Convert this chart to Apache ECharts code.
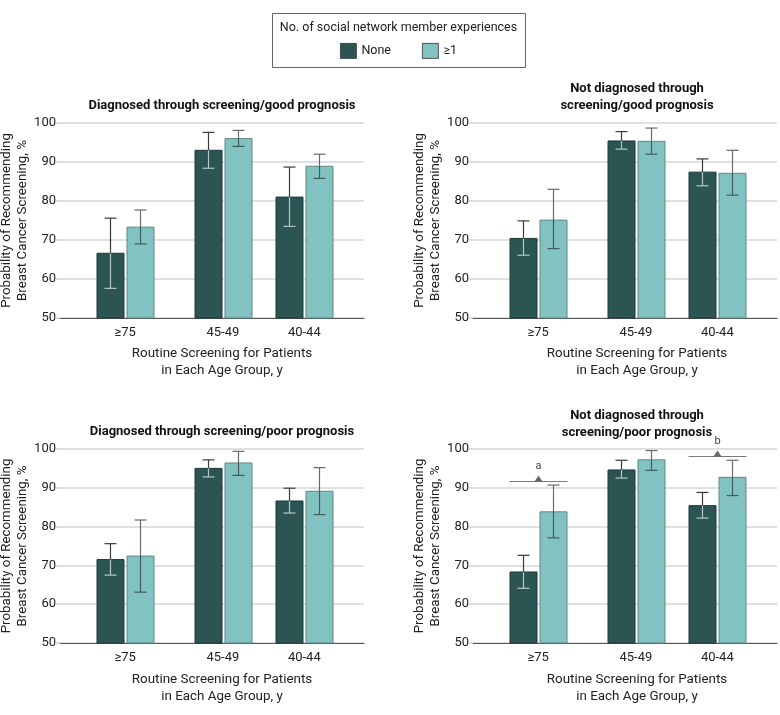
<!DOCTYPE html>
<html><head><meta charset="utf-8">
<script src="https://cdn.jsdelivr.net/npm/echarts@6/dist/echarts.min.js"></script>
<style>html,body{margin:0;padding:0;background:#fff}#c{width:780px;height:715px}</style>
</head><body><div id="c"></div>
<script>
// ---- data ----
const categories = ['≥75', '45-49', '40-44'];
const groupX = [12, 30, 45];           // position of each age group along the x axis (0..56)
const seriesNames = ['None', '≥1'];
const legendTitle = 'No. of social network member experiences';
const yName = 'Probability of Recommending\nBreast Cancer Screening, %';
const xName = 'Routine Screening for Patients\nin Each Age Group, y';
const panelTitles = [
  'Diagnosed through screening/good prognosis',
  'Not diagnosed through\nscreening/good prognosis',
  'Diagnosed through screening/poor prognosis',
  'Not diagnosed through\nscreening/poor prognosis'
];

// Panel 1: diagnosed through screening / good prognosis
const p1None = [66.6, 93.0, 81.0];
const p1NoneLo = [57.6, 88.4, 73.5];
const p1NoneHi = [75.6, 97.6, 88.7];
const p1One = [73.3, 96.0, 88.9];
const p1OneLo = [69.0, 94.0, 85.8];
const p1OneHi = [77.7, 98.1, 92.0];

// Panel 2: not diagnosed through screening / good prognosis
const p2None = [70.4, 95.4, 87.4];
const p2NoneLo = [66.1, 93.3, 83.9];
const p2NoneHi = [74.9, 97.8, 90.8];
const p2One = [75.1, 95.3, 87.1];
const p2OneLo = [67.8, 92.0, 81.5];
const p2OneHi = [83.0, 98.7, 93.0];

// Panel 3: diagnosed through screening / poor prognosis
const p3None = [71.5, 95.0, 86.6];
const p3NoneLo = [67.5, 92.8, 83.5];
const p3NoneHi = [75.6, 97.2, 89.9];
const p3One = [72.4, 96.4, 89.1];
const p3OneLo = [63.1, 93.2, 83.1];
const p3OneHi = [81.7, 99.4, 95.2];

// Panel 4: not diagnosed through screening / poor prognosis
const p4None = [68.3, 94.6, 85.4];
const p4NoneLo = [64.1, 92.5, 82.2];
const p4NoneHi = [72.6, 97.1, 88.8];
const p4One = [83.8, 97.2, 92.7];
const p4OneLo = [77.1, 94.5, 88.0];
const p4OneHi = [90.7, 99.6, 97.1];
const p4SigLevel = [91.8, null, 98.2];
const p4SigLabel = ['a', '', 'b'];

// ---- styling ----
const FONT = "Roboto, sans-serif";
const DARK = '#2b5452', DARK_BORDER = '#1d3837';
const LIGHT = '#82c2c1', LIGHT_BORDER = '#5f8786';
const TXT = '#222';

const panels = [
  {none: p1None, noneLo: p1NoneLo, noneHi: p1NoneHi, one: p1One, oneLo: p1OneLo, oneHi: p1OneHi},
  {none: p2None, noneLo: p2NoneLo, noneHi: p2NoneHi, one: p2One, oneLo: p2OneLo, oneHi: p2OneHi},
  {none: p3None, noneLo: p3NoneLo, noneHi: p3NoneHi, one: p3One, oneLo: p3OneLo, oneHi: p3OneHi},
  {none: p4None, noneLo: p4NoneLo, noneHi: p4NoneHi, one: p4One, oneLo: p4OneLo, oneHi: p4OneHi}
];
const gridPos = [
  {left: 60, top: 123, width: 304, height: 195},
  {left: 473, top: 123, width: 304, height: 195},
  {left: 60, top: 449, width: 304, height: 194},
  {left: 473, top: 449, width: 304, height: 194}
];

function barRender(offset, fill, border, upColor, inColor) {
  return function (params, api) {
    const x = api.value(0), v = api.value(1), lo = api.value(2), hi = api.value(3);
    const base = api.coord([x, 50]);
    const top = api.coord([x, v]);
    const hiP = api.coord([x, hi])[1];
    const loP = api.coord([x, lo])[1];
    const cx = Math.round(base[0] + offset) + 0.5;
    const bw = 27, cap = 6;
    return {
      type: 'group',
      children: [
        {type: 'rect', shape: {x: cx - bw / 2, y: top[1], width: bw, height: base[1] - top[1]},
         style: {fill: fill, stroke: border, lineWidth: 1}},
        {type: 'line', shape: {x1: cx, y1: hiP, x2: cx, y2: top[1]}, style: {stroke: upColor, lineWidth: 1.2}},
        {type: 'line', shape: {x1: cx - cap, y1: hiP, x2: cx + cap, y2: hiP}, style: {stroke: upColor, lineWidth: 1.2}},
        {type: 'line', shape: {x1: cx, y1: top[1], x2: cx, y2: loP}, style: {stroke: inColor, lineWidth: 1.2}},
        {type: 'line', shape: {x1: cx - cap, y1: loP, x2: cx + cap, y2: loP}, style: {stroke: inColor, lineWidth: 1.2}}
      ]
    };
  };
}

const grids = [], xAxes = [], yAxes = [], series = [];
panels.forEach((p, i) => {
  grids.push(Object.assign({containLabel: false, outerBoundsMode: 'none'}, gridPos[i]));
  xAxes.push({
    type: 'value', gridIndex: i, min: 0, max: 56,
    splitLine: {show: false},
    axisLine: {show: true, lineStyle: {color: '#555', width: 1.2}},
    axisTick: {show: false},
    axisLabel: {
      customValues: groupX, margin: 8, color: TXT, fontSize: 13, fontFamily: FONT,
      formatter: v => categories[groupX.indexOf(v)] || ''
    }
  });
  yAxes.push({
    type: 'value', gridIndex: i, min: 50, max: 100, interval: 10,
    name: yName, nameLocation: 'middle', nameGap: 23,
    nameTextStyle: {color: TXT, fontSize: 13.3, fontFamily: FONT, lineHeight: 16},
    axisLine: {show: false},
    axisTick: {show: true, length: 4, lineStyle: {color: '#d0d0d0', width: 1.5}},
    splitLine: {show: true, lineStyle: {color: '#d6d6d6', width: 1.5}},
    axisLabel: {color: TXT, fontSize: 13, fontFamily: FONT, margin: 4}
  });
  series.push({
    type: 'custom', name: seriesNames[0], xAxisIndex: i, yAxisIndex: i,
    itemStyle: {color: DARK},
    renderItem: barRender(-15, DARK, DARK_BORDER, '#3a3a3a', '#b4c8c8'),
    data: groupX.map((x, k) => [x, p.none[k], p.noneLo[k], p.noneHi[k]]),
    encode: {x: 0, y: [1, 2, 3]}, z: 3
  });
  series.push({
    type: 'custom', name: seriesNames[1], xAxisIndex: i, yAxisIndex: i,
    itemStyle: {color: LIGHT},
    renderItem: barRender(15, LIGHT, LIGHT_BORDER, '#6a6a6a', '#3f5d5d'),
    data: groupX.map((x, k) => [x, p.one[k], p.oneLo[k], p.oneHi[k]]),
    encode: {x: 0, y: [1, 2, 3]}, z: 3
  });
});

// significance markers on panel 4
const sigItems = [];
groupX.forEach((x, k) => { if (p4SigLevel[k] != null) sigItems.push({x: x, level: p4SigLevel[k], text: p4SigLabel[k]}); });
series.push({
  type: 'custom', name: 'sig', xAxisIndex: 3, yAxisIndex: 3, z: 4, silent: true,
  data: sigItems.map(s => [s.x, s.level]),
  encode: {x: 0, y: 1},
  renderItem: function (params, api) {
    const c = api.coord([api.value(0), api.value(1)]);
    const cx = Math.round(c[0]) + 0.5, y = Math.round(c[1]) + 0.5;
    return {
      type: 'group',
      children: [
        {type: 'line', shape: {x1: cx - 29, y1: y, x2: cx + 29, y2: y}, style: {stroke: '#7a7a7a', lineWidth: 1.2}},
        {type: 'polygon', shape: {points: [[cx - 4, y], [cx + 4, y], [cx, y - 6]]}, style: {fill: '#666'}},
        {type: 'text', x: cx, y: y - 15, style: {text: sigItems[params.dataIndex].text, fill: '#444',
          font: '11px ' + FONT, textAlign: 'center', textVerticalAlign: 'middle'}}
      ]
    };
  }
});

// text graphics: panel titles, x axis names, legend box
const graphics = [];
const titleCenters = [[222, 105.5], [637, 97.5], [222, 432], [637, 424]];
titleCenters.forEach((c, i) => {
  graphics.push({type: 'text', x: c[0], y: c[1], style: {
    text: panelTitles[i], fill: '#111', font: 'bold 13px ' + FONT,
    textAlign: 'center', textVerticalAlign: 'middle', lineHeight: 17}});
});
const xNameCenters = [[222, 362], [637, 362], [222, 688], [637, 688]];
xNameCenters.forEach(c => {
  graphics.push({type: 'text', x: c[0], y: c[1], style: {
    text: xName, fill: TXT, font: '13.4px ' + FONT,
    textAlign: 'center', textVerticalAlign: 'middle', lineHeight: 17.5}});
});
graphics.push({type: 'rect', shape: {x: 272.5, y: 13.5, width: 253, height: 54},
  style: {fill: '#fff', stroke: '#666', lineWidth: 1}, z: -1});
graphics.push({type: 'text', x: 398.5, y: 27.5, style: {
  text: legendTitle, fill: TXT, font: '12.5px ' + FONT, textAlign: 'center', textVerticalAlign: 'middle'}});

const chart = echarts.init(document.getElementById('c'), null, {renderer: 'canvas'});
chart.setOption({
  animation: false,
  backgroundColor: '#fff',
  textStyle: {fontFamily: FONT},
  grid: grids,
  xAxis: xAxes,
  yAxis: yAxes,
  series: series,
  legend: {
    data: seriesNames, left: 340, top: 43, padding: 0,
    icon: 'rect', itemWidth: 16, itemHeight: 15, itemGap: 31,
    itemStyle: {borderColor: '#333', borderWidth: 0.8},
    textStyle: {color: TXT, fontSize: 12.5, fontFamily: FONT},
    selectedMode: false
  },
  graphic: graphics
});
</script></body></html>
